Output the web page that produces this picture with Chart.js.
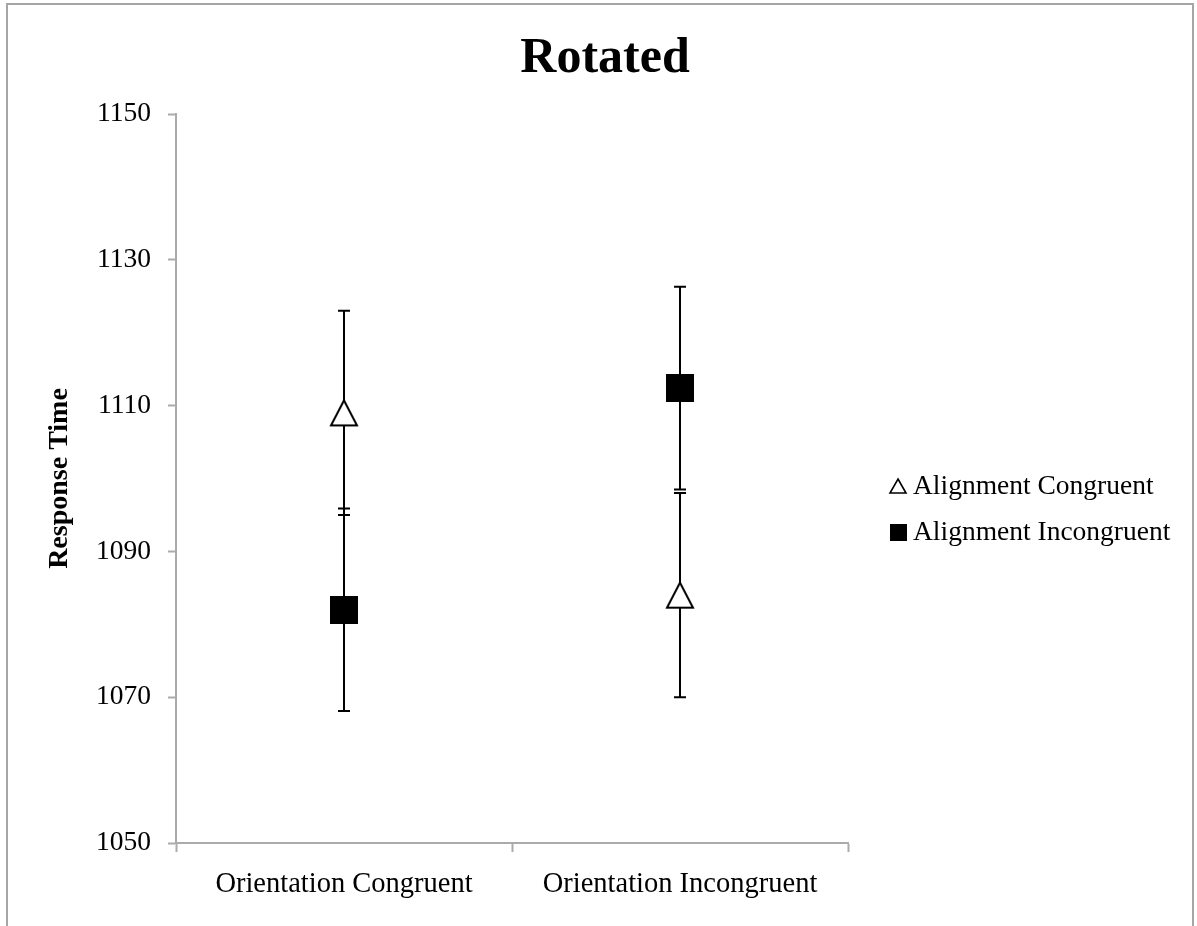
<!DOCTYPE html>
<html>
<head>
<meta charset="utf-8">
<script src="https://cdn.jsdelivr.net/npm/chart.js@4.4.1/dist/chart.umd.min.js"></script>
<style>
  html, body { margin: 0; padding: 0; background: #ffffff; }
  #wrap { position: relative; width: 1197px; height: 926px; }
  canvas { display: block; }
</style>
</head>
<body>
<div id="wrap"><canvas id="chart" width="1197" height="926"></canvas></div>
<script>
// ---- Data ----
const chartTitle = 'Rotated';
const yAxisTitle = 'Response Time';
const categories = ['Orientation Congruent', 'Orientation Incongruent'];
const seriesNames = ['Alignment Congruent', 'Alignment Incongruent'];
const alignCongruentMeans = [1109, 1084];
const alignCongruentErrors = [14, 14];
const alignIncongruentMeans = [1082, 1112.4];
const alignIncongruentErrors = [13.9, 13.9];
const yMin = 1050;
const yMax = 1150;
const yStep = 20;

// ---- Marker images ----
function makeTriangle(w, h, lw) {
  const c = document.createElement('canvas');
  const pad = Math.ceil(lw) + 1;
  c.width = w + pad * 2; c.height = h + pad * 2;
  const g = c.getContext('2d');
  g.beginPath();
  g.moveTo(pad + w / 2, pad);
  g.lineTo(pad + w, pad + h);
  g.lineTo(pad, pad + h);
  g.closePath();
  g.fillStyle = '#ffffff';
  g.fill();
  g.lineWidth = lw;
  g.lineJoin = 'miter';
  g.strokeStyle = '#000000';
  g.stroke();
  return c;
}
function makeSquare(s) {
  const c = document.createElement('canvas');
  c.width = s; c.height = s;
  const g = c.getContext('2d');
  g.fillStyle = '#000000';
  g.fillRect(0, 0, s, s);
  return c;
}
const triMarker = makeTriangle(26, 25, 2);
const sqMarker = makeSquare(28);
const triLegend = makeTriangle(16, 14, 1.6);
const sqLegend = makeSquare(17);

const serif = "'Liberation Serif', 'Times New Roman', serif";
const axisGray = '#ababab';

// ---- Plugins ----
const backgroundBorder = {
  id: 'backgroundBorder',
  beforeDraw(chart) {
    const ctx = chart.ctx;
    ctx.save();
    ctx.fillStyle = '#ffffff';
    ctx.fillRect(0, 0, chart.width, chart.height);
    ctx.strokeStyle = '#a6a6a6';
    ctx.lineWidth = 2;
    ctx.beginPath();
    ctx.moveTo(7, chart.height + 2);
    ctx.lineTo(7, 4);
    ctx.lineTo(1193, 4);
    ctx.lineTo(1193, chart.height + 2);
    ctx.stroke();
    ctx.restore();
  }
};

const errorBars = {
  id: 'errorBars',
  beforeDatasetsDraw(chart) {
    const ctx = chart.ctx;
    const yScale = chart.scales.y;
    ctx.save();
    ctx.strokeStyle = '#000000';
    ctx.lineWidth = 2;
    chart.data.datasets.forEach((ds, i) => {
      const meta = chart.getDatasetMeta(i);
      meta.data.forEach((pt, j) => {
        const v = ds.data[j];
        const e = ds.errors[j];
        const yt = yScale.getPixelForValue(v + e);
        const yb = yScale.getPixelForValue(v - e);
        const x = pt.x;
        ctx.beginPath();
        ctx.moveTo(x, yt); ctx.lineTo(x, yb);
        ctx.moveTo(x - 6, yt); ctx.lineTo(x + 6, yt);
        ctx.moveTo(x - 6, yb); ctx.lineTo(x + 6, yb);
        ctx.stroke();
      });
    });
    ctx.restore();
  }
};

const titleAndLegend = {
  id: 'titleAndLegend',
  afterDraw(chart) {
    const ctx = chart.ctx;
    const area = chart.chartArea;
    ctx.save();
    // title
    ctx.font = 'bold 50px ' + serif;
    ctx.fillStyle = '#000000';
    ctx.textAlign = 'center';
    ctx.textBaseline = 'alphabetic';
    ctx.fillText(chartTitle, 605, 72);
    // legend
    const mx = area.right + 50;
    const tx = area.right + 65;
    const rows = [486, 532];
    const icons = [triLegend, sqLegend];
    ctx.font = '27.5px ' + serif;
    ctx.textBaseline = 'middle';
    ctx.textAlign = 'left';
    chart.data.datasets.forEach((ds, i) => {
      const ic = icons[i];
      ctx.drawImage(ic, Math.round(mx - ic.width / 2), Math.round(rows[i] - ic.height / 2));
      ctx.fillText(ds.label, tx, rows[i] + 1);
    });
    ctx.restore();
  }
};

new Chart(document.getElementById('chart'), {
  type: 'line',
  data: {
    labels: categories,
    datasets: [
      {
        label: seriesNames[0],
        data: alignCongruentMeans,
        errors: alignCongruentErrors,
        showLine: false,
        pointStyle: triMarker,
        pointRadius: 14,
        borderColor: '#000000',
        backgroundColor: '#ffffff'
      },
      {
        label: seriesNames[1],
        data: alignIncongruentMeans,
        errors: alignIncongruentErrors,
        showLine: false,
        pointStyle: sqMarker,
        pointRadius: 14,
        borderColor: '#000000',
        backgroundColor: '#000000'
      }
    ]
  },
  options: {
    responsive: false,
    animation: false,
    events: [],
    layout: { padding: { left: 0, right: 349, top: 114, bottom: 0 } },
    plugins: {
      legend: { display: false },
      tooltip: { enabled: false },
      title: { display: false }
    },
    scales: {
      x: {
        type: 'category',
        offset: true,
        afterFit(scale) { scale.height = 83; },
        border: { display: true, color: axisGray, width: 2 },
        grid: {
          offset: true,
          drawOnChartArea: false,
          drawTicks: true,
          tickLength: 9,
          tickColor: axisGray,
          tickWidth: 2
        },
        ticks: {
          color: '#000000',
          padding: 15,
          maxRotation: 0,
          font: { family: serif, size: 28.5 }
        }
      },
      y: {
        min: yMin,
        max: yMax,
        afterFit(scale) { scale.width = 176; },
        border: { display: true, color: axisGray, width: 2 },
        grid: {
          drawOnChartArea: false,
          drawTicks: true,
          tickLength: 8,
          tickColor: axisGray,
          tickWidth: 2
        },
        ticks: {
          stepSize: yStep,
          color: '#000000',
          padding: 17,
          font: { family: serif, size: 27.5 },
          callback: (v) => String(v)
        },
        title: {
          display: true,
          text: yAxisTitle,
          color: '#000000',
          font: { family: serif, size: 28, weight: 'bold', lineHeight: 1.2 },
          padding: { top: 43, bottom: 0 }
        }
      }
    }
  },
  plugins: [backgroundBorder, errorBars, titleAndLegend]
});
</script>
</body>
</html>
